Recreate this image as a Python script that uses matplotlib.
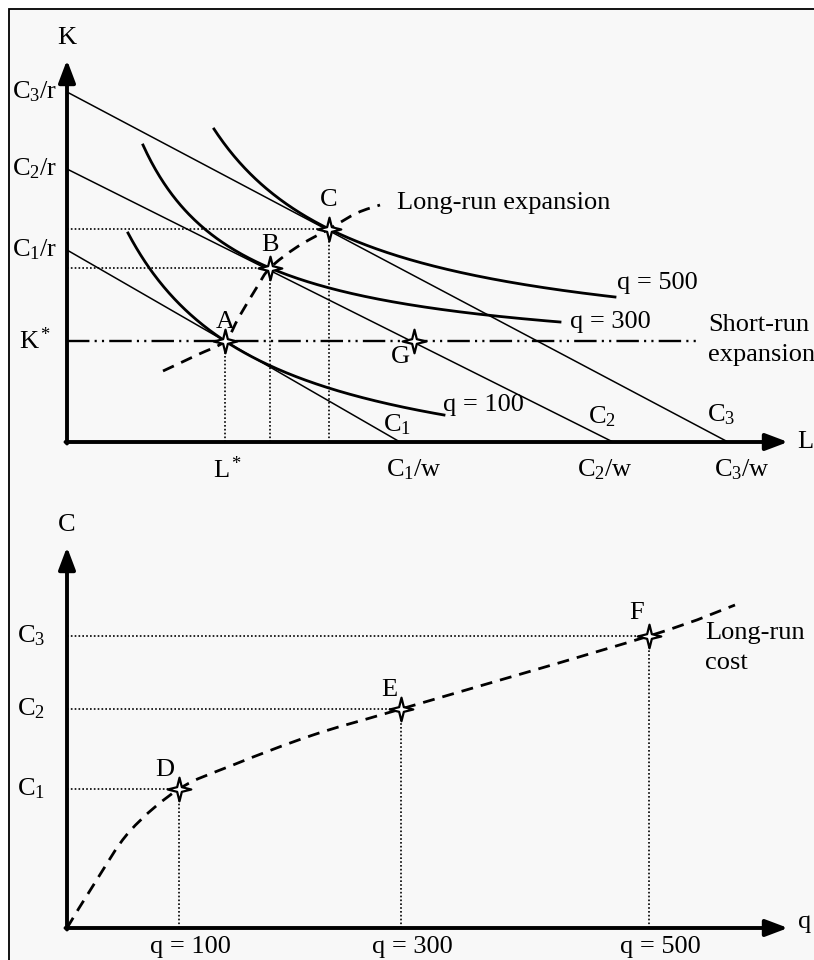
import numpy as np
import matplotlib
matplotlib.use('Agg')
import matplotlib.pyplot as plt
from matplotlib.path import Path
from matplotlib.patches import Rectangle, PathPatch

plt.rcParams['font.family'] = ['Liberation Serif', 'DejaVu Serif']
plt.rcParams['mathtext.fontset'] = 'custom'
plt.rcParams['mathtext.rm'] = 'Liberation Serif'
plt.rcParams['mathtext.it'] = 'Liberation Serif:italic'
plt.rcParams['mathtext.bf'] = 'Liberation Serif:bold'

# ---------------- data: top panel (L, K input space) ----------------
budget_names = [r'$\mathrm{C_1}$', r'$\mathrm{C_2}$', r'$\mathrm{C_3}$']
budget_K_int = [192, 273, 350]          # C/r
budget_L_int = [333, 546, 661]          # C/w
K_int_labels = [r'$\mathrm{C_1/r}$', r'$\mathrm{C_2/r}$', r'$\mathrm{C_3/r}$']
L_int_labels = [r'$\mathrm{C_1/w}$', r'$\mathrm{C_2/w}$', r'$\mathrm{C_3/w}$']
K_star = 101
tan_names = ['A', 'B', 'C']
tan_L = [158, 203, 262]
tan_K = [101, 174, 213]
G_L, G_K = 347, 101
iso_labels = ['q = 100', 'q = 300', 'q = 500']
iso_start = [(61, 209), (76, 297), (147, 313)]
iso_end = [(377, 27), (493, 120), (548, 145)]
lr_exp_L = [96, 130, 158, 172, 190, 203, 230, 262, 290, 313]
lr_exp_K = [71, 87, 101, 125, 155, 174, 195, 213, 229, 237]
sr_exp_end = 630

# ---------------- data: bottom panel (q, C) ----------------
cost_names = ['D', 'E', 'F']
cost_q_pos = [112, 334, 582]
cost_levels = [139, 219, 292]
cost_level_labels = [r'$\mathrm{C_1}$', r'$\mathrm{C_2}$', r'$\mathrm{C_3}$']
q_labels = ['q = 100', 'q = 300', 'q = 500']
lrc_q = [0, 29, 63, 112, 166, 246, 334, 582, 668]
lrc_C = [0, 47, 97, 139, 163, 193, 219, 292, 323]

FS = 19
W, H = 814, 960
fig = plt.figure(figsize=(W / 100, H / 100), dpi=100)
fig.patch.set_facecolor('white')
fig.add_artist(Rectangle((8.5 / W, -0.02), 1.2, 1.02 - 8.5 / H, transform=fig.transFigure,
                         facecolor='#f8f8f8', edgecolor='black', lw=1.3, zorder=-5))

ax1 = fig.add_axes([0, 0.5, 1, 0.5])
ax1.set_xlim(-67, W - 67)
ax1.set_ylim(-38, 442)
ax2 = fig.add_axes([0, 0, 1, 0.5])
ax2.set_xlim(-67, W - 67)
ax2.set_ylim(-32, 448)
for ax in (ax1, ax2):
    ax.axis('off')
    ax.patch.set_alpha(0)

star = Path.unit_regular_star(4, innerCircle=0.28)
star_kw = dict(marker=star, ms=17, mfc='white', mec='black', mew=1.6, ls='none', zorder=6)
dot_kw = dict(color='black', lw=1.2, ls=(0, (1, 1.3)), zorder=2)
dash_ls = (0, (4.3, 2.9))


def axes_arrows(ax, xtip, ytip):
    style = '-|>,head_length=0.45,head_width=0.17'
    ax.annotate('', xy=(xtip, 0), xytext=(-1.5, 0),
                arrowprops=dict(arrowstyle=style, lw=2.8, color='black', mutation_scale=30,
                                shrinkA=0, shrinkB=0), zorder=5)
    ax.annotate('', xy=(0, ytip), xytext=(0, -1.5),
                arrowprops=dict(arrowstyle=style, lw=2.8, color='black', mutation_scale=30,
                                shrinkA=0, shrinkB=0), zorder=5)


def smooth_path(xs, ys):
    P = np.column_stack([xs, ys]).astype(float)
    n = len(P)
    verts = [P[0]]
    codes = [Path.MOVETO]
    for i in range(n - 1):
        p0 = P[i - 1] if i > 0 else P[i]
        p1 = P[i]
        p2 = P[i + 1]
        p3 = P[i + 2] if i + 2 < n else P[i + 1]
        c1 = p1 + (p2 - p0) / 6.0
        c2 = p2 - (p3 - p1) / 6.0
        verts += [c1, c2, p2]
        codes += [Path.CURVE4] * 3
    return Path(np.array(verts), codes)


def hyperbola(p1, p2, p3):
    pts = [p1, p2, p3]
    A = np.array([[x, y, 1.0] for x, y in pts])
    b = np.array([x * y for x, y in pts])
    K0, L0, e = np.linalg.solve(A, b)
    c = (p2[1] - K0) * (p2[0] - L0)
    return K0, L0, c


# ================= TOP PANEL =================
axes_arrows(ax1, 721, 382)
ax1.text(0, 404, 'K', fontsize=FS, ha='center', va='center')
ax1.text(738, 0, 'L', fontsize=FS, ha='center', va='center')

# budget (isocost) lines
for kint, lint in zip(budget_K_int, budget_L_int):
    ax1.plot([0, lint], [kint, 0], color='black', lw=1.1, zorder=3)
for lab, kint in zip(K_int_labels, budget_K_int):
    ax1.text(-32, kint, lab, fontsize=FS, ha='center', va='center')
ax1.text(-32, K_star, r'$\mathrm{K^*}$', fontsize=FS, ha='center', va='center')
for lab, xpos in zip(L_int_labels, [347, 538, 675]):
    ax1.text(xpos, -28, lab, fontsize=FS, ha='center', va='center')
for lab, (xp, yp) in zip(budget_names, [(330, 17), (535, 25), (654, 27)]):
    ax1.text(xp, yp, lab, fontsize=FS, ha='center', va='center')

# isoquants
for (s, e_, tl, tk, lab, lpos) in zip(iso_start, iso_end, tan_L, tan_K, iso_labels,
                                     [(376, 37), (503, 120), (550, 159)]):
    K0, L0, c = hyperbola(s, (tl, tk), e_)
    xx = np.linspace(s[0], e_[0], 300)
    ax1.plot(xx, K0 + c / (xx - L0), color='black', lw=2.0, zorder=3)
    ax1.text(lpos[0], lpos[1], lab, fontsize=FS, ha='left', va='center')

# short-run expansion path
ax1.plot([0, sr_exp_end], [K_star, K_star], color='black', lw=1.7,
         ls=(0, (9.5, 2.2, 0.9, 2.2, 0.9, 2.2)), zorder=4)
ax1.text(641, 117, 'Short-run', fontsize=FS, ha='left', va='center')
ax1.text(641, 87, 'expansion', fontsize=FS, ha='left', va='center')

# long-run expansion path
ax1.add_patch(PathPatch(smooth_path(lr_exp_L, lr_exp_K), fill=False, ec='black', lw=2.0,
                        ls=dash_ls, zorder=4))
ax1.text(330, 239, 'Long-run expansion', fontsize=FS, ha='left', va='center')

# guide lines and points
for i, (tl, tk) in enumerate(zip(tan_L, tan_K)):
    ax1.plot([tl, tl], [0, tk], **dot_kw)
    if i > 0:
        ax1.plot([0, tl], [tk, tk], **dot_kw)
ax1.plot(tan_L, tan_K, **star_kw)
ax1.plot([G_L], [G_K], **star_kw)
for nm, (xp, yp) in zip(tan_names, [(158, 120), (203, 197), (262, 242)]):
    ax1.text(xp, yp, nm, fontsize=FS, ha='center', va='center')
ax1.text(333, 85, 'G', fontsize=FS, ha='center', va='center')
ax1.text(161, -28, r'$\mathrm{L^*}$', fontsize=FS, ha='center', va='center')

# ================= BOTTOM PANEL =================
axes_arrows(ax2, 721, 381)
ax2.text(0, 403, 'C', fontsize=FS, ha='center', va='center')
ax2.text(738, 6, 'q', fontsize=FS, ha='center', va='center')

ax2.add_patch(PathPatch(smooth_path(lrc_q, lrc_C), fill=False, ec='black', lw=2.0,
                        ls=dash_ls, zorder=4))
for qp, cl in zip(cost_q_pos, cost_levels):
    ax2.plot([0, qp], [cl, cl], **dot_kw)
    ax2.plot([qp, qp], [0, cl], **dot_kw)
ax2.plot(cost_q_pos, cost_levels, **star_kw)
for lab, cl in zip(cost_level_labels, cost_levels):
    ax2.text(-36, cl, lab, fontsize=FS, ha='center', va='center')
for lab, qp in zip(q_labels, cost_q_pos):
    ax2.text(qp + 11, -19, lab, fontsize=FS, ha='center', va='center')
for nm, (xp, yp) in zip(cost_names, [(98, 158), (322, 238), (570, 315)]):
    ax2.text(xp, yp, nm, fontsize=FS, ha='center', va='center')
ax2.text(638, 295, 'Long-run', fontsize=FS, ha='left', va='center')
ax2.text(638, 265, 'cost', fontsize=FS, ha='left', va='center')

fig.savefig('out.png', dpi=100, facecolor='white')
